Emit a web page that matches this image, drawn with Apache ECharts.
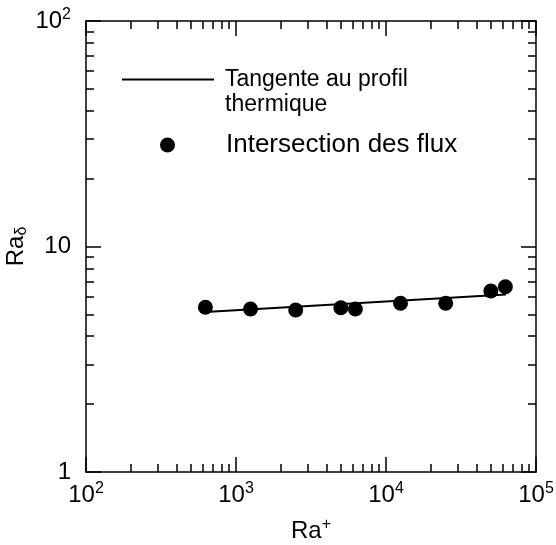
<!DOCTYPE html>
<html><head><meta charset="utf-8">
<script src="https://cdn.jsdelivr.net/npm/echarts@6/dist/echarts.min.js"></script>
<style>html,body{margin:0;padding:0;background:#fff}#c{width:556px;height:545px}</style>
</head><body><div id="c"></div>
<script>
// ---- data ----
const raPlus = [625, 1250, 2500, 5000, 6250, 12500, 25000, 50000, 62500];
const raDelta = [5.38, 5.28, 5.23, 5.35, 5.28, 5.60, 5.60, 6.35, 6.63];
const fitX = [625, 63000];
const fitY = [5.12, 6.12];
const xTickValues = [100, 1000, 10000, 100000];
const xTickLabels = [['10', '2'], ['10', '3'], ['10', '4'], ['10', '5']];
const yTickValues = [1, 10, 100];
const yTickLabels = [['1', ''], ['10', ''], ['10', '2']];
const seriesNames = ['Tangente au profil\nthermique', 'Intersection des flux'];
const xName = ['Ra', '+'];
const yName = ['Ra', 'δ'];

function minorTicks(decades) {
  const out = [];
  decades.forEach(d => { for (let k = 2; k <= 9; k++) out.push(k * d); });
  return out;
}
const xMinor = minorTicks([100, 1000, 10000]);
const yMinor = minorTicks([1, 10]);

const FONT = 'Liberation Sans, Arial, sans-serif';
const rich = {
  b: {fontSize: 24, fontFamily: FONT, color: '#000', lineHeight: 28},
  s: {fontSize: 16, fontFamily: FONT, color: '#000', verticalAlign: 'top', lineHeight: 18},
  d: {fontSize: 16, fontFamily: FONT, color: '#000', verticalAlign: 'bottom', lineHeight: 18}
};
function fmt(values, labels) {
  return function (v) {
    let i = values.findIndex(t => Math.abs(Math.log10(t) - Math.log10(v)) < 1e-6);
    if (i < 0) return '';
    const [b, e] = labels[i];
    return '{b|' + b + '}' + (e ? '{s|' + e + '}' : '');
  };
}
const lineS = {color: '#000', width: 1.5};

function mkX(pos, major, show) {
  return {
    type: 'log', logBase: 10, min: 100, max: 100000, position: pos, gridIndex: 0,
    axisLine: {show: major, lineStyle: lineS},
    axisTick: {show: true, inside: true, length: major ? 15 : 8, lineStyle: lineS,
      customValues: major ? xTickValues : xMinor},
    axisLabel: {show: show, customValues: xTickValues, formatter: fmt(xTickValues, xTickLabels),
      rich: rich, margin: 9},
    splitLine: {show: false}, minorTick: {show: false}
  };
}
function mkY(pos, major, show) {
  return {
    type: 'log', logBase: 10, min: 1, max: 100, position: pos, gridIndex: 0,
    axisLine: {show: major, lineStyle: lineS},
    axisTick: {show: true, inside: true, length: major ? 15 : 8, lineStyle: lineS,
      customValues: major ? yTickValues : yMinor},
    axisLabel: {show: show, customValues: yTickValues, formatter: fmt(yTickValues, yTickLabels),
      rich: rich, margin: 15},
    splitLine: {show: false}, minorTick: {show: false}
  };
}

const xa = [mkX('bottom', true, true), mkX('top', true, false), mkX('bottom', false, false), mkX('top', false, false)];
const ya = [mkY('left', true, true), mkY('right', true, false), mkY('left', false, false), mkY('right', false, false)];
xa[0].name = '{b|' + xName[0] + '}{s|' + xName[1] + '}';
xa[0].nameLocation = 'middle';
xa[0].nameGap = 45;
xa[0].nameMoveOverlap = false;
xa[0].nameTextStyle = {rich: rich};
ya[0].name = '{b|' + yName[0] + '}{d|' + yName[1] + '}';
ya[0].nameLocation = 'middle';
ya[0].nameGap = 56;
ya[0].nameMoveOverlap = false;
ya[0].nameTextStyle = {rich: rich};

const chart = echarts.init(document.getElementById('c'), null, {renderer: 'canvas'});
chart.setOption({
  animation: false,
  backgroundColor: '#fff',
  grid: {left: 86, right: 20, top: 21, bottom: 73, containLabel: false, outerBoundsMode: 'none'},
  xAxis: xa,
  yAxis: ya,
  legend: [
    {data: [{name: seriesNames[0], icon: 'rect'}], left: 122, top: 42, padding: 0, itemWidth: 92, itemHeight: 2,
      itemStyle: {color: '#000'},
      formatter: n => ' \n' + n,
      textStyle: {fontSize: 23, fontFamily: FONT, color: '#000', lineHeight: 25, padding: [0, 0, 0, 6]}},
    {data: [{name: seriesNames[1], icon: 'circle'}], left: 160, top: 131, padding: 0, itemWidth: 15, itemHeight: 15,
      itemStyle: {color: '#000', opacity: 1},
      textStyle: {fontSize: 26, fontFamily: FONT, color: '#000', lineHeight: 28, padding: [0, 0, 0, 46]}}
  ],
  series: [
    {name: seriesNames[0], type: 'line', xAxisIndex: 0, yAxisIndex: 0, symbol: 'none',
      lineStyle: {color: '#000', width: 2}, itemStyle: {color: '#000'},
      data: fitX.map((x, i) => [x, fitY[i]])},
    {name: seriesNames[1], type: 'scatter', xAxisIndex: 0, yAxisIndex: 0, symbol: 'circle', symbolSize: 15,
      itemStyle: {color: '#000', opacity: 1},
      data: raPlus.map((x, i) => [x, raDelta[i]])}
  ]
});
</script></body></html>
